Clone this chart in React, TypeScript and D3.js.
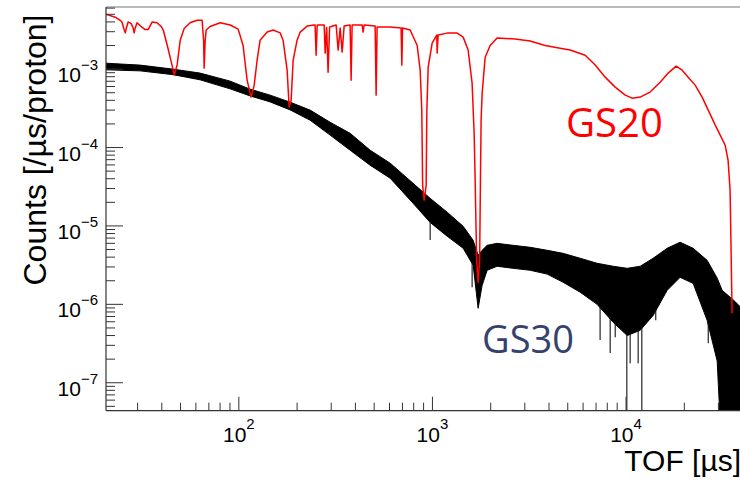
import React from 'react';
import * as d3 from 'd3';

// GS20 (red) time-of-flight spectrum
const gs20Tof = [20.6, 23.0, 24.4, 24.9, 25.6, 25.9, 26.2, 26.8, 27.8, 28.4, 28.8, 29.1, 29.8, 31.7, 32.8, 34.0, 35.7, 37.8, 39.7, 40.7, 42.7, 44.8, 46.4, 48.0, 49.8, 52.2, 56.0, 60.9, 64.6, 65.8, 66.2, 67.0, 67.8, 71.1, 80.1, 90.2, 99.2, 105.2, 110.4, 115.7, 120, 124.3, 128.8, 140, 150.4, 163.4, 169.3, 177.6, 181.9, 186.3, 190.8, 200, 207.4, 225.4, 244.9, 247.7, 250.7, 253.9, 272.6, 275.9, 279.2, 284.1, 289.1, 294.4, 318.2, 325.8, 333.7, 341.7, 349.9, 375.6, 380.2, 384.7, 433.5, 438.5, 443.7, 505.8, 511.9, 517.9, 604.8, 689, 695, 701, 767.4, 834, 864.3, 881, 890, 906, 928, 935.7, 950.6, 996.6, 1053, 1057.5, 1070, 1191, 1342, 1441, 1529, 1603, 1642, 1662, 1692, 1722, 1753, 1770, 1784, 1806, 1872, 1986, 2158, 2673, 3197, 3821, 4566, 5145, 6150, 6928, 7800, 8790, 9903, 10754, 11830, 13320, 15000, 16500, 18150, 19500, 20940, 22750, 24720, 26580, 28890, 30650, 32500, 33650, 34470, 34880, 35300];
const gs20Counts = [5.0e-3, 4.6e-3, 4.2e-3, 4.0e-3, 3.15e-3, 2.9e-3, 3.3e-3, 4.0e-3, 3.8e-3, 3.4e-3, 2.9e-3, 3.3e-3, 3.9e-3, 3.4e-3, 3.2e-3, 3.2e-3, 4.0e-3, 3.9e-3, 3.5e-3, 3.15e-3, 2.0e-3, 1.23e-3, 8.4e-4, 1.13e-3, 2.34e-3, 3.3e-3, 3.9e-3, 4.2e-3, 4.2e-3, 2.3e-3, 1.03e-3, 2.3e-3, 3.15e-3, 3.5e-3, 3.9e-3, 3.65e-3, 3.24e-3, 2.0e-3, 7.2e-4, 4.4e-4, 6.2e-4, 1.3e-3, 2.34e-3, 2.97e-3, 3.15e-3, 2.9e-3, 2.34e-3, 9.7e-4, 3.3e-4, 4.0e-4, 1.3e-3, 2.34e-3, 2.97e-3, 3.54e-3, 3.65e-3, 3.65e-3, 1.5e-3, 3.65e-3, 3.65e-3, 3.65e-3, 1.6e-3, 3.4e-3, 9.15e-4, 3.44e-3, 3.65e-3, 1.75e-3, 3.34e-3, 1.65e-3, 3.54e-3, 3.65e-3, 7.2e-4, 3.65e-3, 3.65e-3, 2.97e-3, 3.65e-3, 3.54e-3, 4.66e-4, 3.44e-3, 3.44e-3, 3.34e-3, 1.125e-3, 3.34e-3, 3.15e-3, 2.0e-3, 9.7e-4, 3.0e-4, 3.3e-5, 2.13e-5, 3.3e-5, 3.0e-4, 1.06e-3, 2.15e-3, 2.72e-3, 1.6e-3, 2.72e-3, 2.88e-3, 2.88e-3, 2.56e-3, 1.75e-3, 6.6e-4, 1.52e-4, 3.83e-5, 3.64e-6, 1.91e-6, 3.64e-6, 3.83e-5, 2.23e-4, 4.9e-4, 1.42e-3, 2.0e-3, 2.5e-3, 2.42e-3, 2.28e-3, 2.0e-3, 1.85e-3, 1.75e-3, 1.5e-3, 1.13e-3, 7.9e-4, 5.9e-4, 4.66e-4, 4.26e-4, 4.4e-4, 5.1e-4, 6.8e-4, 8.9e-4, 1.09e-3, 9.7e-4, 7.9e-4, 6.25e-4, 4.4e-4, 3.0e-4, 1.93e-4, 1.44e-4, 1.07e-4, 6.9e-5, 2.85e-5, 4.9e-6, 7.7e-7];

// GS30 (black) noisy spectrum: upper / lower envelope of the band
const gs30Tof = [20.6, 30.9, 45.8, 63.1, 90.2, 114.4, 145.1, 184.1, 233.5, 296.2, 375.6, 476.5, 604.8, 794, 973, 1191, 1441, 1623, 1722, 1806, 1917, 2158, 2611, 3197, 3913, 4733, 5794, 7085, 8580, 10140, 11830, 13800, 16310, 19030, 22220, 26240, 29560, 31360, 36000, 40550];
const gs30Upper = [1.19e-3, 1.125e-3, 1.0e-3, 8.9e-4, 7.03e-4, 5.55e-4, 4.66e-4, 3.79e-4, 3.0e-4, 2.1e-4, 1.52e-4, 9.25e-5, 6.32e-5, 3.5e-5, 2.25e-5, 1.5e-5, 9.9e-6, 6.56e-6, 4.22e-6, 4.89e-6, 5.66e-6, 6.0e-6, 5.66e-6, 5.34e-6, 4.89e-6, 4.47e-6, 3.87e-6, 3.34e-6, 3.06e-6, 2.88e-6, 3.06e-6, 3.87e-6, 5.19e-6, 6.2e-6, 5.19e-6, 3.64e-6, 2.16e-6, 1.51e-6, 1.125e-6, 8.4e-7];
const gs30Lower = [9.8e-4, 9.5e-4, 8.5e-4, 7.3e-4, 5.6e-4, 4.55e-4, 3.82e-4, 3.02e-4, 2.23e-4, 1.44e-4, 9.25e-5, 5.95e-5, 4.06e-5, 1.95e-5, 1.11e-5, 7.4e-6, 5.19e-6, 3.15e-6, 8.9e-7, 1.75e-6, 2.72e-6, 3.06e-6, 2.88e-6, 2.72e-6, 2.43e-6, 1.91e-6, 1.43e-6, 1.0e-6, 5.9e-7, 4.0e-7, 4.66e-7, 7.2e-7, 1.51e-6, 2.21e-6, 1.85e-6, 6.25e-7, 1.9e-7, 1e-8, 1e-8, 1e-8];

// GS30 downward fluctuations (single bins)
const spikeTof = [973, 1603, 7345, 8280, 8790, 9460, 10095, 10500, 11550, 12066, 14240, 26580];
const spikeCounts = [6.6e-6, 1.65e-6, 3.5e-7, 2.4e-7, 3.8e-7, 4.7e-7, 1e-8, 1.77e-7, 1.77e-7, 1e-8, 6.25e-7, 3.18e-7];

const xDecades = [1, 2, 3, 4];
const xLabelDecades = [2, 3, 4];
const yDecades = [-8, -7, -6, -5, -4, -3, -2];
const yLabelDecades = [-7, -6, -5, -4, -3];

const xTitle = 'TOF [µs]';
const yTitle = 'Counts [/µs/proton]';
const label20 = 'GS20';
const label30 = 'GS30';

export default function App() {
  const W = 740, H = 483;
  const left = 106, right = 742.6, top = 7, bottom = 410.7;
  const x = d3.scaleLog().domain([20.6, 4.0e4]).range([left, right]);
  const y = d3.scaleLog().domain([4.4e-8, 6.2e-3]).range([bottom, top]);
  const [xMin, xMax] = x.domain();
  const [yMin, yMax] = y.domain();

  const redPts = gs20Tof.map((t, i) => [t, gs20Counts[i]] as [number, number]);
  const line = d3.line<[number, number]>().x(d => x(d[0])).y(d => y(d[1]));
  const band = gs30Tof.map((t, i) => ({ t, u: gs30Upper[i], l: gs30Lower[i] }));
  const area = d3.area<{ t: number; u: number; l: number }>()
    .x(d => x(d.t)).y0(d => y(d.l)).y1(d => y(d.u));
  // pixel position of the band's lower edge at a given TOF
  const lowerPx = d3.scaleLinear().domain(gs30Tof.map(t => x(t))).range(gs30Lower.map(v => y(v))).clamp(true);

  const xTicks: { v: number; major: boolean }[] = [];
  xDecades.forEach(e => {
    for (let m = 1; m <= 9; m++) {
      const v = m * Math.pow(10, e);
      if (v > xMin && v < xMax) xTicks.push({ v, major: m === 1 });
    }
  });
  const yTicks: { v: number; major: boolean }[] = [];
  yDecades.forEach(e => {
    for (let m = 1; m <= 9; m++) {
      const v = m * Math.pow(10, e);
      if (v > yMin && v < yMax) yTicks.push({ v, major: m === 1 });
    }
  });

  const axisFont = "'Liberation Sans', Arial, Helvetica, sans-serif";
  const labelFont = "'Open Sans', 'Noto Sans', sans-serif";

  return (
    <svg width={W} height={H} style={{ position: 'absolute', left: 0, top: 0, background: '#fff' }}>
      <defs>
        <clipPath id="plot">
          <rect x={left} y={top} width={right - left} height={bottom - top} />
        </clipPath>
      </defs>
      <rect x={0} y={0} width={W} height={H} fill="#fff" />
      <g clipPath="url(#plot)">
        <path d={area(band) || ''} fill="#000" stroke="#000" strokeWidth={1} strokeLinejoin="round" />
        {spikeTof.map((t, i) => (
          <line key={i} x1={x(t)} x2={x(t)} y1={lowerPx(x(t)) - 2} y2={y(spikeCounts[i])} stroke="#111" strokeWidth={1.1} />
        ))}
        <path d={line(redPts) || ''} fill="none" stroke="#ff0000" strokeWidth={1.5} strokeLinejoin="round" />
      </g>
      {/* frame */}
      <line x1={left} x2={right} y1={top} y2={top} stroke="#777" strokeWidth={1.2} />
      <line x1={left} x2={left} y1={top} y2={bottom} stroke="#333" strokeWidth={1.2} />
      <line x1={left} x2={right} y1={bottom} y2={bottom} stroke="#333" strokeWidth={1.2} />
      {xTicks.map((t, i) => (
        <line key={'xt' + i} x1={x(t.v)} x2={x(t.v)} y1={bottom} y2={bottom - (t.major ? 14 : 8)} stroke="#333" strokeWidth={1} />
      ))}
      {yTicks.map((t, i) => (
        <line key={'yt' + i} x1={left} x2={left + (t.major ? 17 : 9)} y1={y(t.v)} y2={y(t.v)} stroke="#333" strokeWidth={1} />
      ))}
      {xLabelDecades.map(e => (
        <text key={'xl' + e} x={x(Math.pow(10, e))} y={bottom + 31} textAnchor="middle" fontFamily={axisFont} fontSize={21} fill="#000">
          10<tspan fontSize={15} dy={-13}>{e}</tspan>
        </text>
      ))}
      {yLabelDecades.map(e => (
        <text key={'yl' + e} x={98} y={y(Math.pow(10, e)) + 13} textAnchor="end" fontFamily={axisFont} fontSize={21} fill="#000">
          10<tspan fontSize={15} dy={-12}>{'\u2212' + Math.abs(e)}</tspan>
        </text>
      ))}
      <text x={741} y={471} textAnchor="end" fontFamily={axisFont} fontSize={30} fill="#000">{xTitle}</text>
      <text transform={`translate(46,150) rotate(-90)`} textAnchor="middle" fontFamily={axisFont} fontSize={32} fill="#000">{yTitle}</text>
      <text x={566} y={137} fontFamily={labelFont} fontSize={40} fill="#ff0000">{label20}</text>
      <text x={482} y={353} fontFamily={labelFont} fontSize={38} fill="#34426e">{label30}</text>
    </svg>
  );
}
